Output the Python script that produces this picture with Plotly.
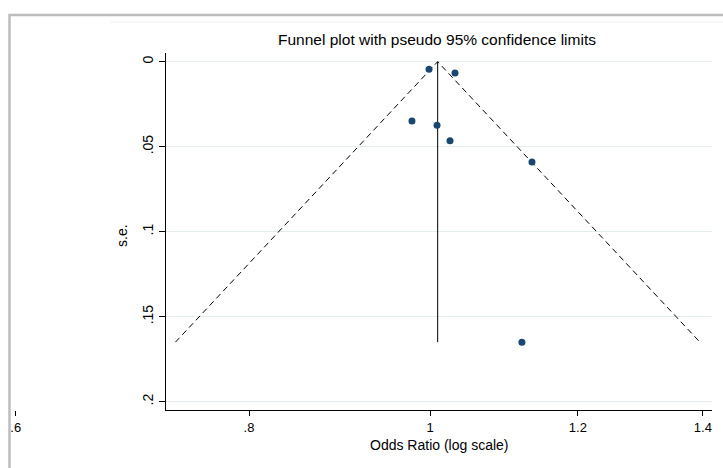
import math
import plotly.graph_objects as go

# ---- data ----
odds_ratio = [0.9988, 1.0313, 0.9780, 1.0087, 1.0250, 1.1340, 1.1200]
std_err = [0.0045, 0.0066, 0.0349, 0.0374, 0.0465, 0.0590, 0.1650]
pooled_or = 1.0095
z95 = 1.96
x_tick_vals = [0.6, 0.8, 1.0, 1.2, 1.4]
x_tick_text = [".6", ".8", "1", "1.2", "1.4"]
y_tick_vals = [0, 0.05, 0.1, 0.15, 0.2]
y_tick_text = ["0", ".05", ".1", ".15", ".2"]

# ---- layout geometry (pixels) ----
W, H = 723, 468
PX_ONE = 430.0          # pixel x of OR = 1
PX_PER_LN = 811.0       # pixels per natural-log unit
AX_LEFT, AX_RIGHT = 165.7, 711.7
AX_TOP, AX_BOTTOM = 53.0, 410.0
PY_ZERO, PY_PER_UNIT = 61.7, 1700.0

def fx(px):
    return px / W

def fy(py):
    return 1 - py / H

def log10_at(px):
    return (px - PX_ONE) / PX_PER_LN / math.log(10)

y_range = [(AX_BOTTOM - PY_ZERO) / PY_PER_UNIT, (AX_TOP - PY_ZERO) / PY_PER_UNIT]

# funnel lines
se_max = max(std_err)
ln_p = math.log(pooled_or)
funnel_x = [math.exp(ln_p - z95 * se_max), pooled_or, math.exp(ln_p + z95 * se_max)]
funnel_y = [se_max, 0, se_max]

FONT = "Liberation Sans, Arial, sans-serif"
navy = "#1a476f"

fig = go.Figure()
fig.add_trace(go.Scatter(x=funnel_x, y=funnel_y, mode="lines",
                         line=dict(color="black", width=1, dash="6px,4px"),
                         hoverinfo="skip", showlegend=False))
fig.add_trace(go.Scatter(x=[pooled_or, pooled_or], y=[0, se_max], mode="lines",
                         line=dict(color="black", width=1),
                         hoverinfo="skip", showlegend=False))
fig.add_trace(go.Scatter(x=odds_ratio, y=std_err, mode="markers",
                         marker=dict(color=navy, size=7, line=dict(width=0)),
                         showlegend=False))
# invisible companion trace so the tick-only axis pair (x2/y2) is rendered
fig.add_trace(go.Scatter(x=[pooled_or], y=[0], xaxis="x2", yaxis="y2",
                         mode="markers", marker=dict(opacity=0),
                         hoverinfo="skip", showlegend=False))

fig.update_layout(
    width=W, height=H, autosize=False,
    margin=dict(l=0, r=0, t=0, b=0),
    paper_bgcolor="white", plot_bgcolor="rgba(0,0,0,0)",
    font=dict(family=FONT, size=13, color="black"),
    xaxis=dict(type="log", domain=[fx(AX_LEFT), fx(AX_RIGHT)],
               range=[log10_at(AX_LEFT), log10_at(AX_RIGHT)],
               anchor="y", showline=True, linecolor="black", linewidth=1,
               ticks="", showticklabels=False, showgrid=False, zeroline=False),
    yaxis=dict(domain=[fy(AX_BOTTOM), fy(AX_TOP)], range=y_range, anchor="x",
               tickvals=y_tick_vals, ticktext=y_tick_text, tickangle=-90,
               ticks="outside", ticklen=6, tickcolor="black",
               showline=True, linecolor="black", linewidth=1,
               showgrid=True, gridcolor="#e4ecf0", gridwidth=1, zeroline=False,
               tickfont=dict(size=14)),
    xaxis2=dict(type="log", domain=[0, fx(AX_RIGHT)],
                range=[log10_at(0), log10_at(AX_RIGHT)], anchor="y2",
                tickvals=x_tick_vals, ticktext=x_tick_text,
                ticks="outside", ticklen=5, tickcolor="black",
                showline=False, showgrid=False, zeroline=False,
                tickfont=dict(size=13)),
    yaxis2=dict(domain=[fy(AX_BOTTOM), fy(AX_TOP)], range=y_range, anchor="x2",
                showticklabels=False, showgrid=False, showline=False,
                ticks="", zeroline=False),
    shapes=[
        dict(type="rect", xref="paper", yref="paper",
             x0=fx(9.5), x1=fx(760), y0=fy(15), y1=fy(520),
             line=dict(color="#bdbdbd", width=2.5), layer="below"),
        dict(type="line", xref="paper", yref="paper",
             x0=fx(110), x1=fx(723), y0=fy(22), y1=fy(22),
             line=dict(color="#eef3f3", width=1), layer="below"),
    ],
    annotations=[
        dict(text="Funnel plot with pseudo 95% confidence limits",
             xref="paper", yref="paper", x=fx(437), y=fy(39),
             xanchor="center", yanchor="middle", showarrow=False,
             font=dict(size=15.5)),
        dict(text="Odds Ratio (log scale)", xref="paper", yref="paper",
             x=fx(440), y=fy(445), xanchor="center", yanchor="middle",
             showarrow=False, font=dict(size=14)),
        dict(text="s.e.", xref="paper", yref="paper", x=fx(122), y=fy(236),
             xanchor="center", yanchor="middle", textangle=-90,
             showarrow=False, font=dict(size=14)),
    ],
)

fig.write_html("out.html")
